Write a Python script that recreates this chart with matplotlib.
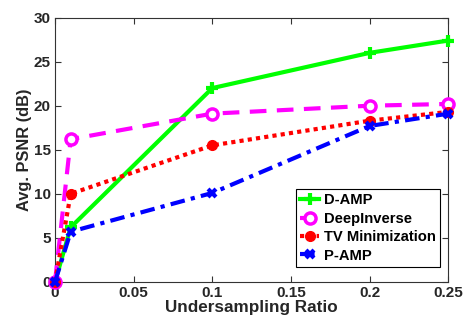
import matplotlib
matplotlib.use("Agg")
import matplotlib.pyplot as plt

ratios = [0, 0.01, 0.1, 0.2, 0.25]
damp = [0, 6.2, 22.0, 26.0, 27.4]
deepinverse = [0, 16.2, 19.1, 20.0, 20.2]
tv = [0, 10.0, 15.5, 18.3, 19.3]
pamp = [0, 5.7, 10.1, 17.7, 19.1]

xticks = [0, 0.05, 0.1, 0.15, 0.2, 0.25]
xticklabels = ["0", "0.05", "0.1", "0.15", "0.2", "0.25"]
yticks = [0, 5, 10, 15, 20, 25, 30]

plt.rcParams['font.family'] = ['Liberation Sans', 'DejaVu Sans']
plt.rcParams['font.weight'] = 'bold'

fig = plt.figure(figsize=(4.66, 3.2), dpi=100)
ax = fig.add_axes([0.118, 0.119, 0.844, 0.826])

lw = 3
ax.plot(ratios, damp, color=(0, 1, 0), lw=lw, ls='-', marker='+', ms=9, mew=3, label='D-AMP', clip_on=False, zorder=3)
ax.plot(ratios, deepinverse, color=(1, 0, 1), lw=lw, ls=(0, (4, 2.5)), marker='o', ms=8,
        mfc='white', mew=2.5, label='DeepInverse', clip_on=False, zorder=3)
ax.plot(ratios, tv, color=(1, 0, 0), lw=lw, ls=(0, (1, 1)), marker='o', ms=7, label='TV Minimization', clip_on=False, zorder=3)
ax.plot(ratios, pamp, color=(0, 0, 1), lw=lw, ls=(0, (3.5, 1.5, 1, 1.5)), marker='x', ms=6, mew=3, label='P-AMP', clip_on=False, zorder=3)

ax.set_xlim(0, 0.25)
ax.set_ylim(0, 30)
ax.set_xticks(xticks)
ax.set_xticklabels(xticklabels)
ax.set_yticks(yticks)
ax.tick_params(direction='in', top=True, right=True, labelsize=11, length=4, color='#333333', pad=3)
for lab in ax.get_xticklabels() + ax.get_yticklabels():
    lab.set_fontweight('bold')
    lab.set_color('#262626')
for s in ax.spines.values():
    s.set_color('#333333')
    s.set_linewidth(0.8)

ax.set_xlabel('Undersampling Ratio', fontsize=12.3, fontweight='bold', color='#262626', labelpad=0)
ax.set_ylabel('Avg. PSNR (dB)', fontsize=11.8, fontweight='bold', color='#262626', labelpad=1)

leg = ax.legend(loc='lower right', bbox_to_anchor=(0.99, 0.04), fontsize=10.6, handlelength=1.3,
                handletextpad=0.3, borderpad=0.3, labelspacing=0.3, fancybox=False, framealpha=1,
                edgecolor='black', borderaxespad=0.3)
leg.get_frame().set_linewidth(0.8)
for t in leg.get_texts():
    t.set_fontweight('bold')

fig.savefig('out.png', dpi=100)
